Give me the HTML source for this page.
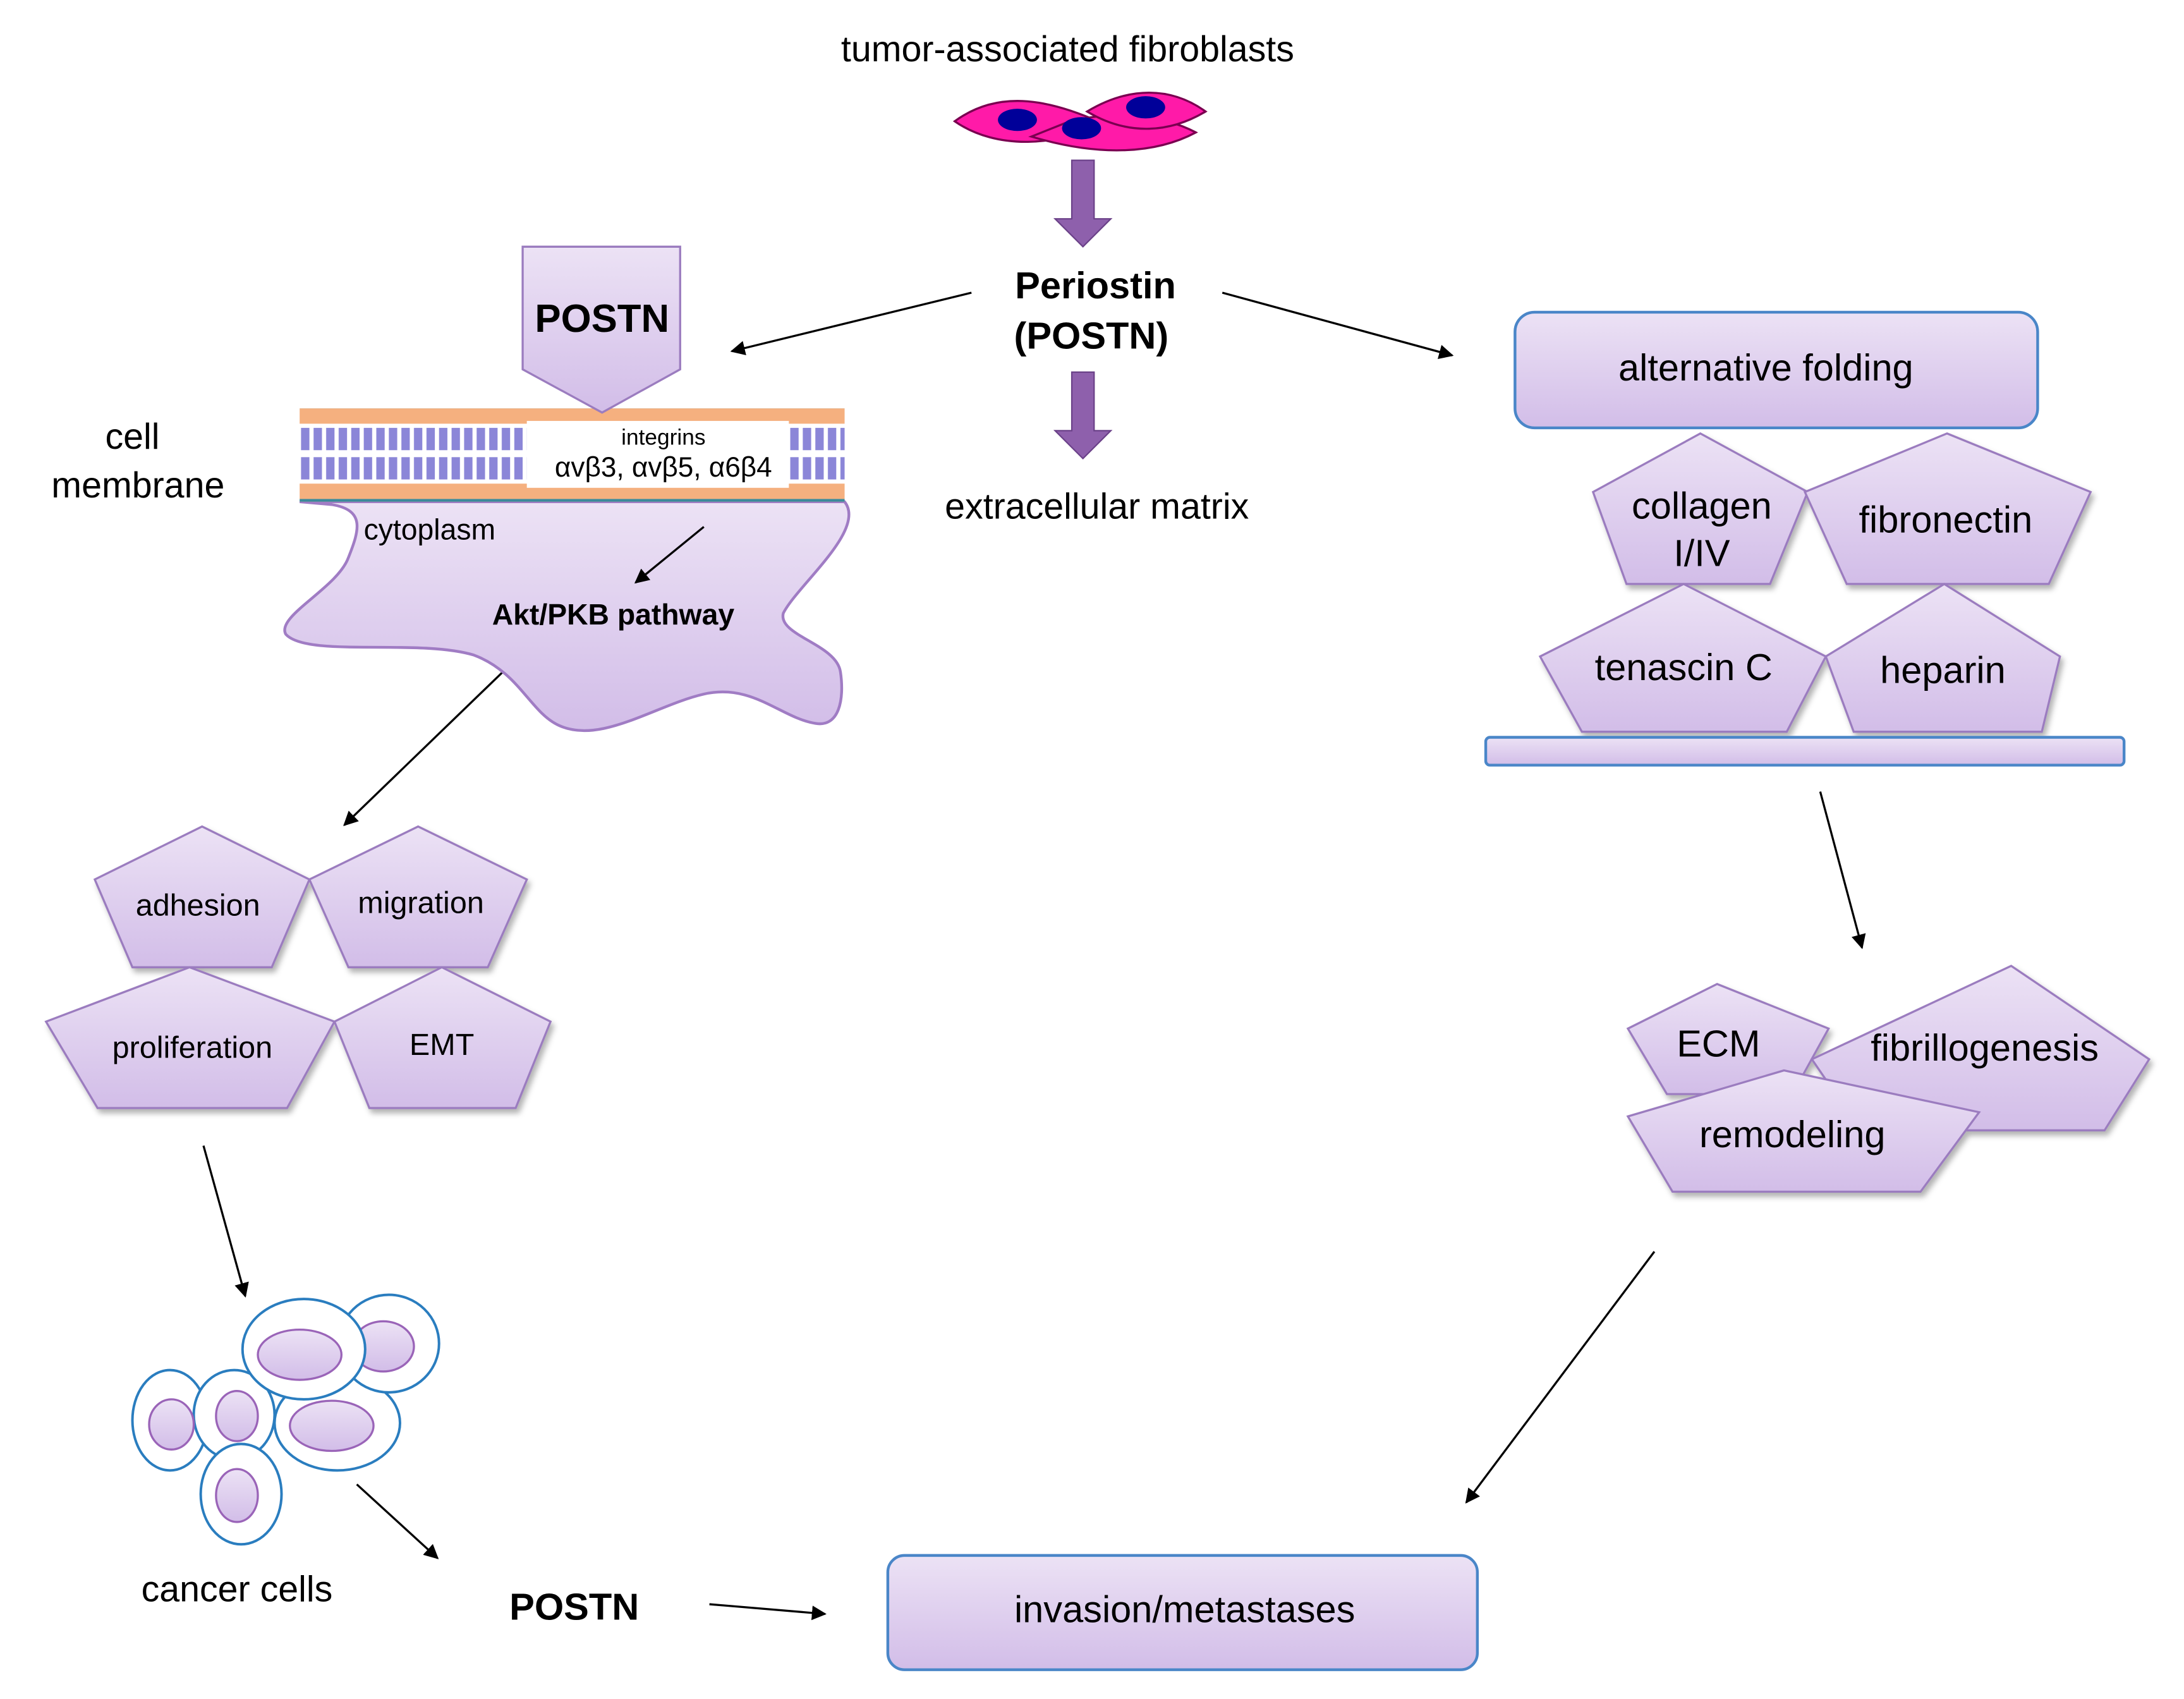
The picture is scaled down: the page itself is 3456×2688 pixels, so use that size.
<!DOCTYPE html>
<html><head><meta charset="utf-8"><style>
html,body{margin:0;padding:0;background:#fff;}
svg{display:block;}
text{font-family:"Liberation Sans",sans-serif;fill:#000;}
</style></head><body>
<svg width="3456" height="2688" viewBox="0 0 1567 1219" preserveAspectRatio="none" xmlns="http://www.w3.org/2000/svg">
<defs>
<linearGradient id="lg" x1="0" y1="0" x2="0" y2="1"><stop offset="0" stop-color="#ece2f5"/><stop offset="1" stop-color="#d2bde8"/></linearGradient>
<marker id="ah" viewBox="0 0 10 10" refX="9" refY="5" markerWidth="7" markerHeight="7" orient="auto"><path d="M0,0 L10,5 L0,10 z" fill="#000"/></marker>
<filter id="sh" x="-10%" y="-10%" width="130%" height="130%"><feDropShadow dx="2" dy="3" stdDeviation="2" flood-color="#000" flood-opacity="0.3"/></filter>
<pattern id="lip" x="215" y="293" width="9" height="67" patternUnits="userSpaceOnUse">
<rect width="9" height="67" fill="#fff"/>
<rect y="0" width="9" height="11" fill="#f5b07f"/>
<rect x="1" y="14" width="6" height="16" fill="#8b86d8"/>
<rect x="1" y="35" width="6" height="16" fill="#8b86d8"/>
<rect y="54" width="9" height="11" fill="#f5b07f"/>
<rect y="65" width="9" height="2" fill="#3a8a9a"/>
</pattern>
</defs>

<text x="766" y="44" font-size="26" text-anchor="middle">tumor-associated fibroblasts</text>
<g stroke="#7a0050" stroke-width="1.5" fill="#ff1aa8">
<path d="M685,87 C715,65 750,70 790,88 C760,105 715,108 685,87 z"/>
<path d="M765,90 C800,80 835,85 858,97 C830,112 790,115 740,100 z" transform="translate(0,-2)"/>
<path d="M780,80 C810,62 840,62 865,80 C840,95 810,98 780,80 z"/>
</g>
<ellipse cx="730" cy="86" rx="14" ry="8" fill="#000099"/>
<ellipse cx="776" cy="92" rx="14" ry="8" fill="#000099"/>
<ellipse cx="822" cy="77" rx="14" ry="8" fill="#000099"/>
<path d="M769,115 h16 v42 h12 l-20,20 l-20,-20 h12 z" fill="#8e60ac" stroke="#6a4088" stroke-width="1"/>
<text x="786" y="214" font-size="27" font-weight="bold" text-anchor="middle">Periostin</text>
<text x="783" y="250" font-size="27" font-weight="bold" text-anchor="middle">(POSTN)</text>
<path d="M769,267 h16 v42 h12 l-20,20 l-20,-20 h12 z" fill="#8e60ac" stroke="#6a4088" stroke-width="1"/>
<text x="787" y="372" font-size="26" text-anchor="middle">extracellular matrix</text>

<g stroke="#000" stroke-width="1.5" fill="none" marker-end="url(#ah)">
<line x1="697" y1="210" x2="525" y2="252"/>
<line x1="877" y1="210" x2="1042" y2="255"/>
<line x1="365" y1="478" x2="247" y2="592"/>
<line x1="146" y1="822" x2="176" y2="930"/>
<line x1="256" y1="1065" x2="314" y2="1118"/>
<line x1="509" y1="1151" x2="592" y2="1158"/>
<line x1="1306" y1="568" x2="1336" y2="680"/>
<line x1="1187" y1="898" x2="1052" y2="1078"/>
</g>

<text x="95" y="322" font-size="26" text-anchor="middle">cell</text>
<text x="99" y="357" font-size="26" text-anchor="middle">membrane</text>
<path d="M215,360 L606,360 C622,380 572,420 562,440 C558,456 600,462 603,482 C606,502 602,522 585,519 C560,515 540,490 505,498 C470,506 430,535 400,520 C380,510 372,482 340,470 C300,458 220,472 205,455 C198,442 242,422 250,400 C258,380 262,366 238,362 Z" fill="url(#lg)" stroke="#a07cc4" stroke-width="2"/>
<rect x="215" y="293" width="391" height="67" fill="url(#lip)"/>
<rect x="378" y="302" width="188" height="48" fill="#fff"/>
<text x="476" y="319" font-size="16" text-anchor="middle" fill="#1b5a7a">integrins</text>
<text x="476" y="342" font-size="20" text-anchor="middle" fill="#1b3a7a">αvβ3, αvβ5, α6β4</text>
<path d="M375,177 h113 v88 l-56,31 l-57,-31 z" fill="url(#lg)" stroke="#9b7cbf" stroke-width="1.5"/>
<text x="432" y="238" font-size="28" font-weight="bold" text-anchor="middle">POSTN</text>
<text x="261" y="387" font-size="21">cytoplasm</text>
<line x1="505" y1="378" x2="456" y2="418" stroke="#000" stroke-width="1.5" marker-end="url(#ah)"/>
<text x="440" y="448" font-size="21" font-weight="bold" text-anchor="middle">Akt/PKB pathway</text>

<g fill="url(#lg)" stroke="#9b7cbf" stroke-width="1.5" filter="url(#sh)">
<polygon points="145,593 222,631 195,694 95,694 68,631"/>
<polygon points="300,593 378,631 350,694 250,694 222,631"/>
<polygon points="136,694 240,733 206,795 70,795 33,733"/>
<polygon points="317,694 395,733 370,795 265,795 240,733"/>
</g>
<g font-size="22" text-anchor="middle">
<text x="142" y="657">adhesion</text>
<text x="302" y="655">migration</text>
<text x="138" y="759">proliferation</text>
<text x="317" y="757">EMT</text>
</g>

<g fill="#fff" stroke="#2a7dbf" stroke-width="1.8">
<ellipse cx="122" cy="1019" rx="27" ry="36"/>
<ellipse cx="168" cy="1015" rx="29" ry="32"/>
<ellipse cx="242" cy="1021" rx="45" ry="34"/>
<ellipse cx="279" cy="964" rx="36" ry="35"/>
</g>
<g fill="url(#lg)" stroke="#9a64b8" stroke-width="1.5">
<ellipse cx="123" cy="1022" rx="16" ry="18"/>
<ellipse cx="170" cy="1016" rx="15" ry="18"/>
<ellipse cx="238" cy="1023" rx="30" ry="18"/>
<ellipse cx="275" cy="966" rx="22" ry="18"/>
</g>
<ellipse cx="218" cy="968" rx="44" ry="36" fill="#fff" stroke="#2a7dbf" stroke-width="1.8"/>
<ellipse cx="215" cy="972" rx="30" ry="18" fill="url(#lg)" stroke="#9a64b8" stroke-width="1.5"/>
<ellipse cx="173" cy="1072" rx="29" ry="36" fill="#fff" stroke="#2a7dbf" stroke-width="1.8"/>
<ellipse cx="170" cy="1073" rx="15" ry="19" fill="url(#lg)" stroke="#9a64b8" stroke-width="1.5"/>
<text x="170" y="1149" font-size="26" text-anchor="middle">cancer cells</text>
<text x="412" y="1162" font-size="27" font-weight="bold" text-anchor="middle">POSTN</text>

<rect x="637" y="1116" width="423" height="82" rx="12" fill="url(#lg)" stroke="#4a86c8" stroke-width="2"/>
<text x="850" y="1164" font-size="27" text-anchor="middle">invasion/metastases</text>

<rect x="1087" y="224" width="375" height="83" rx="14" fill="url(#lg)" stroke="#4a86c8" stroke-width="2"/>
<text x="1267" y="273" font-size="27" text-anchor="middle">alternative folding</text>
<g fill="url(#lg)" stroke="#9b7cbf" stroke-width="1.5" filter="url(#sh)">
<polygon points="1220,311 1297,353 1270,419 1167,419 1143,353"/>
<polygon points="1397,311 1500,353 1470,419 1325,419 1295,353"/>
<polygon points="1208,419 1310,471 1282,525 1135,525 1105,471"/>
<polygon points="1395,419 1478,471 1465,525 1330,525 1310,471"/>
</g>
<rect x="1066" y="529" width="458" height="20" rx="3" fill="url(#lg)" stroke="#4a86c8" stroke-width="2"/>
<g font-size="27" text-anchor="middle">
<text x="1221" y="372">collagen</text>
<text x="1221" y="406">I/IV</text>
<text x="1396" y="382">fibronectin</text>
<text x="1208" y="488">tenascin C</text>
<text x="1394" y="490">heparin</text>
</g>
<g fill="url(#lg)" stroke="#9b7cbf" stroke-width="1.5" filter="url(#sh)">
<polygon points="1232,706 1312,738 1286,785 1196,785 1168,738"/>
<polygon points="1443,693 1542,760 1510,811 1335,811 1300,760"/>
<polygon points="1280,768 1420,798 1378,855 1200,855 1168,801"/>
</g>
<g font-size="27" text-anchor="middle">
<text x="1233" y="758">ECM</text>
<text x="1424" y="761">fibrillogenesis</text>
<text x="1286" y="823">remodeling</text>
</g>
</svg>
</body></html>
